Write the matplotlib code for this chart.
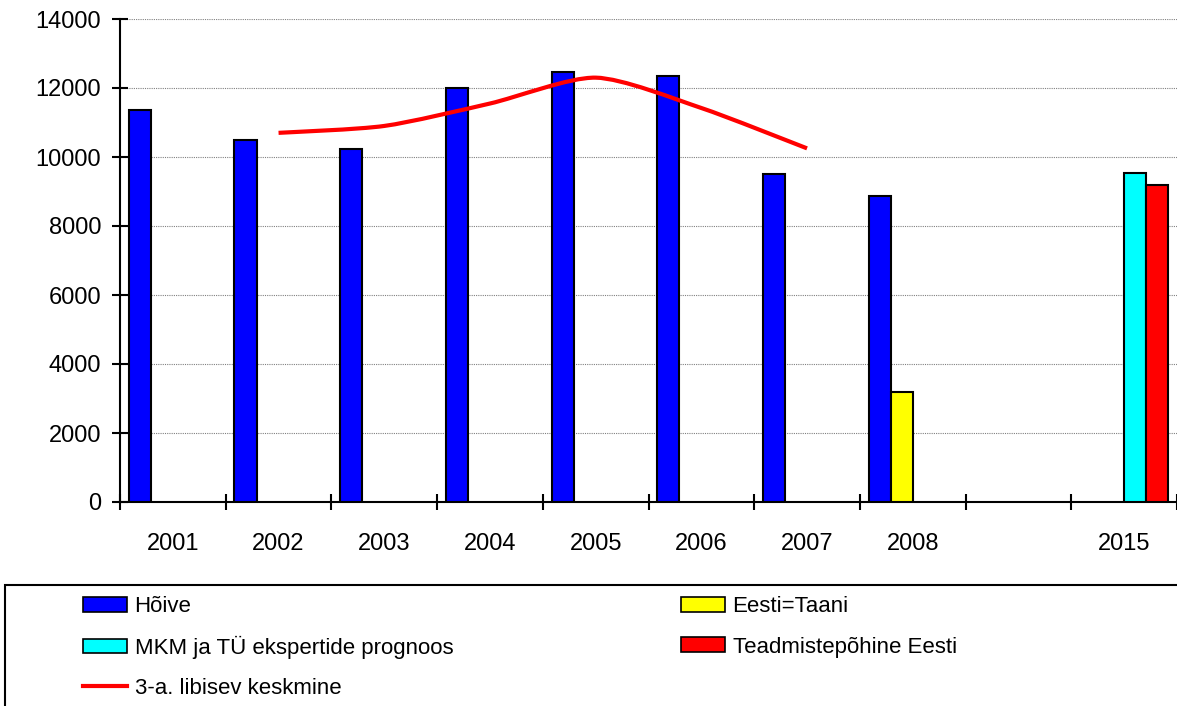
import numpy as np
import matplotlib.pyplot as plt
from matplotlib.path import Path
from matplotlib.patches import PathPatch, Rectangle, Patch
from matplotlib.lines import Line2D

plt.rcParams['font.family'] = ['Liberation Sans', 'DejaVu Sans']

# Andmed
aastad = ['2001', '2002', '2003', '2004', '2005', '2006', '2007', '2008', '', '2015']
hoive = [11350, 10500, 10230, 12000, 12450, 12350, 9500, 8870, np.nan, np.nan]
eesti_taani = [np.nan] * 7 + [3200, np.nan, np.nan]
mkm_tu = [np.nan] * 9 + [9550]
teadmistepohine = [np.nan] * 9 + [9200]
libisev_aastad = [1, 2, 3, 4, 5, 6]          # 2002..2007 indeksid
libisev = [10700, 10900, 11550, 12300, 11420, 10250]

seeriad = [
    ('Hõive', hoive, '#0000ff'),
    ('Eesti=Taani', eesti_taani, '#ffff00'),
    ('MKM ja TÜ ekspertide prognoos', mkm_tu, '#00ffff'),
    ('Teadmistepõhine Eesti', teadmistepohine, '#ff0000'),
]

fig = plt.figure(figsize=(11.77, 7.06), dpi=100)
ax = fig.add_axes([120 / 1177, 1 - 502 / 706, 1 - 120 / 1177, (502 - 19) / 706])

x = np.arange(len(aastad))
laius = 0.2085
vahe = (1 - 4 * laius) / 2
for i, (nimi, vaartused, varv) in enumerate(seeriad):
    nihe = -0.5 + vahe + laius * (i + 0.5)
    ax.bar(x + nihe, vaartused, laius, color=varv, edgecolor='black',
           linewidth=1.5, zorder=3)

# silutud libisev keskmine (Bezier kõverad punktide vahel)
px = np.array(libisev_aastad, dtype=float)
py = np.array(libisev, dtype=float)
pts = np.column_stack([px, py])
verts = [pts[0]]
codes = [Path.MOVETO]
n = len(pts)
for k in range(n - 1):
    p0 = pts[k - 1] if k > 0 else pts[k]
    p1 = pts[k]
    p2 = pts[k + 1]
    p3 = pts[k + 2] if k + 2 < n else pts[k + 1]
    c1 = p1 + (p2 - p0) / 8
    c2 = p2 - (p3 - p1) / 8
    verts += [c1, c2, p2]
    codes += [Path.CURVE4] * 3
ax.add_patch(PathPatch(Path(verts, codes), facecolor='none', edgecolor='#ff0000',
                       linewidth=3, zorder=4, capstyle='butt'))

ax.set_xlim(-0.5, len(aastad) - 0.5)
ax.set_ylim(0, 14000)
ax.set_yticks(np.arange(0, 14001, 2000))
ax.yaxis.grid(True, linestyle=(0, (1, 1)), color='#808080', linewidth=0.8, zorder=0)

ax.set_xticks(np.arange(-0.5, len(aastad)), labels=[''] * (len(aastad) + 1))
ax.set_xticks(x, labels=aastad, minor=True)
ax.tick_params(axis='x', which='major', direction='inout', length=11, width=1.5)
ax.tick_params(axis='x', which='minor', length=0, pad=22, labelsize=17)
ax.tick_params(axis='y', direction='inout', length=11, width=1.5, pad=8, labelsize=17)

for s in ['top', 'right']:
    ax.spines[s].set_visible(False)
for s in ['left', 'bottom']:
    ax.spines[s].set_linewidth(1.5)

# legend: raam ulatub pildist välja
fig.add_artist(Rectangle((5 / 1177, -0.1), 1.1, 0.1 + 1 - 585 / 706,
                         transform=fig.transFigure, facecolor='white',
                         edgecolor='black', linewidth=1.5))

kast = lambda varv: Patch(facecolor=varv, edgecolor='black', linewidth=1.2)
kirjed = [
    (kast('#0000ff'), 'Hõive', 83, 607),
    (kast('#ffff00'), 'Eesti=Taani', 681, 607),
    (kast('#00ffff'), 'MKM ja TÜ ekspertide prognoos', 83, 647),
    (kast('#ff0000'), 'Teadmistepõhine Eesti', 681, 647),
    (Line2D([], [], color='#ff0000', linewidth=3), '3-a. libisev keskmine', 83, 688),
]
for kasitseja, tekst, lx, ly in kirjed:
    leg = fig.legend([kasitseja], [tekst], frameon=False, fontsize=16,
                     handlelength=2.0, handleheight=0.62, handletextpad=0.32,
                     borderpad=0, borderaxespad=0, loc='center left',
                     bbox_to_anchor=(lx / 1177, 1 - ly / 706))

plt.savefig('out.png', dpi=100)
